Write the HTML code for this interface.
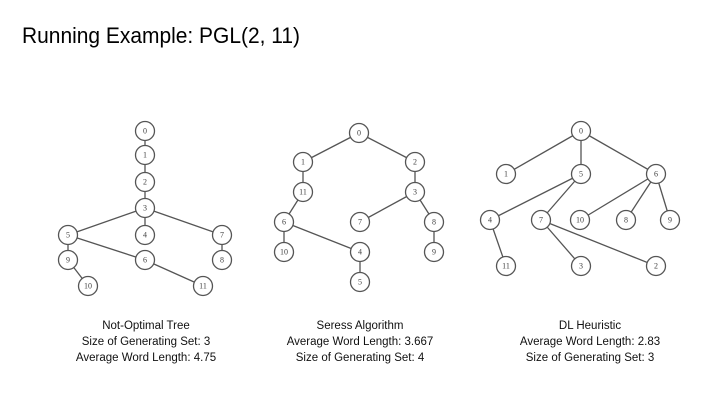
<!DOCTYPE html>
<html><head><meta charset="utf-8"><style>
html,body{margin:0;padding:0;background:#fff;}
svg{display:block;}
.e{stroke:#555;stroke-width:1.3;fill:none}
.n circle{fill:#fff;stroke:#555;stroke-width:1.3}
.n text{font-family:"Liberation Serif",serif;font-size:8px;fill:#444;text-anchor:middle;dominant-baseline:central}
.cap{font-family:"Liberation Sans",sans-serif;font-size:11.5px;fill:#111;text-anchor:middle}
</style></head><body>
<svg width="720" height="405" viewBox="0 0 720 405" xmlns="http://www.w3.org/2000/svg">
<text x="22" y="43" font-family="Liberation Sans, sans-serif" font-size="22" textLength="278" lengthAdjust="spacingAndGlyphs" fill="#000">Running Example: PGL(2, 11)</text>

<!-- Tree 1 -->
<g class="e">
<line x1="145" y1="131" x2="145" y2="208"/>
<line x1="145" y1="208" x2="68" y2="235"/>
<line x1="145" y1="208" x2="145" y2="235"/>
<line x1="145" y1="208" x2="222" y2="235"/>
<line x1="68" y1="235" x2="68" y2="260"/>
<line x1="68" y1="235" x2="145" y2="260"/>
<line x1="222" y1="235" x2="222" y2="260"/>
<line x1="68" y1="260" x2="88" y2="286"/>
<line x1="145" y1="260" x2="203" y2="286"/>
</g>
<g class="n">
<g><circle cx="145" cy="131" r="9.5"/><text x="145" y="131">0</text></g>
<g><circle cx="145" cy="155" r="9.5"/><text x="145" y="155">1</text></g>
<g><circle cx="145" cy="182" r="9.5"/><text x="145" y="182">2</text></g>
<g><circle cx="145" cy="208" r="9.5"/><text x="145" y="208">3</text></g>
<g><circle cx="68" cy="235" r="9.5"/><text x="68" y="235">5</text></g>
<g><circle cx="145" cy="235" r="9.5"/><text x="145" y="235">4</text></g>
<g><circle cx="222" cy="235" r="9.5"/><text x="222" y="235">7</text></g>
<g><circle cx="68" cy="260" r="9.5"/><text x="68" y="260">9</text></g>
<g><circle cx="145" cy="260" r="9.5"/><text x="145" y="260">6</text></g>
<g><circle cx="222" cy="260" r="9.5"/><text x="222" y="260">8</text></g>
<g><circle cx="88" cy="286" r="9.5"/><text x="88" y="286">10</text></g>
<g><circle cx="203" cy="286" r="9.5"/><text x="203" y="286">11</text></g>
</g>

<!-- Tree 2 -->
<g class="e">
<line x1="359" y1="133" x2="303" y2="162"/>
<line x1="359" y1="133" x2="415" y2="162"/>
<line x1="303" y1="162" x2="303" y2="192"/>
<line x1="415" y1="162" x2="415" y2="192"/>
<line x1="303" y1="192" x2="284" y2="222"/>
<line x1="415" y1="192" x2="360" y2="222"/>
<line x1="415" y1="192" x2="434" y2="222"/>
<line x1="284" y1="222" x2="284" y2="252"/>
<line x1="284" y1="222" x2="360" y2="252"/>
<line x1="434" y1="222" x2="434" y2="252"/>
<line x1="360" y1="252" x2="360" y2="282"/>
</g>
<g class="n">
<g><circle cx="359" cy="133" r="9.5"/><text x="359" y="133">0</text></g>
<g><circle cx="303" cy="162" r="9.5"/><text x="303" y="162">1</text></g>
<g><circle cx="415" cy="162" r="9.5"/><text x="415" y="162">2</text></g>
<g><circle cx="303" cy="192" r="9.5"/><text x="303" y="192">11</text></g>
<g><circle cx="415" cy="192" r="9.5"/><text x="415" y="192">3</text></g>
<g><circle cx="284" cy="222" r="9.5"/><text x="284" y="222">6</text></g>
<g><circle cx="360" cy="222" r="9.5"/><text x="360" y="222">7</text></g>
<g><circle cx="434" cy="222" r="9.5"/><text x="434" y="222">8</text></g>
<g><circle cx="284" cy="252" r="9.5"/><text x="284" y="252">10</text></g>
<g><circle cx="360" cy="252" r="9.5"/><text x="360" y="252">4</text></g>
<g><circle cx="434" cy="252" r="9.5"/><text x="434" y="252">9</text></g>
<g><circle cx="360" cy="282" r="9.5"/><text x="360" y="282">5</text></g>
</g>

<!-- Tree 3 -->
<g class="e">
<line x1="581" y1="131" x2="506" y2="174"/>
<line x1="581" y1="131" x2="581" y2="174"/>
<line x1="581" y1="131" x2="656" y2="174"/>
<line x1="581" y1="174" x2="490" y2="220"/>
<line x1="581" y1="174" x2="541" y2="220"/>
<line x1="656" y1="174" x2="580" y2="220"/>
<line x1="656" y1="174" x2="626" y2="220"/>
<line x1="656" y1="174" x2="670" y2="220"/>
<line x1="490" y1="220" x2="506" y2="266"/>
<line x1="541" y1="220" x2="581" y2="266"/>
<line x1="541" y1="220" x2="656" y2="266"/>
</g>
<g class="n">
<g><circle cx="581" cy="131" r="9.5"/><text x="581" y="131">0</text></g>
<g><circle cx="506" cy="174" r="9.5"/><text x="506" y="174">1</text></g>
<g><circle cx="581" cy="174" r="9.5"/><text x="581" y="174">5</text></g>
<g><circle cx="656" cy="174" r="9.5"/><text x="656" y="174">6</text></g>
<g><circle cx="490" cy="220" r="9.5"/><text x="490" y="220">4</text></g>
<g><circle cx="541" cy="220" r="9.5"/><text x="541" y="220">7</text></g>
<g><circle cx="580" cy="220" r="9.5"/><text x="580" y="220">10</text></g>
<g><circle cx="626" cy="220" r="9.5"/><text x="626" y="220">8</text></g>
<g><circle cx="670" cy="220" r="9.5"/><text x="670" y="220">9</text></g>
<g><circle cx="506" cy="266" r="9.5"/><text x="506" y="266">11</text></g>
<g><circle cx="581" cy="266" r="9.5"/><text x="581" y="266">3</text></g>
<g><circle cx="656" cy="266" r="9.5"/><text x="656" y="266">2</text></g>
</g>

<!-- Captions -->
<text class="cap" x="146" y="329">Not-Optimal Tree</text>
<text class="cap" x="146" y="345">Size of Generating Set: 3</text>
<text class="cap" x="146" y="361">Average Word Length: 4.75</text>
<text class="cap" x="360" y="329">Seress Algorithm</text>
<text class="cap" x="360" y="345">Average Word Length: 3.667</text>
<text class="cap" x="360" y="361">Size of Generating Set:  4</text>
<text class="cap" x="590" y="329">DL Heuristic</text>
<text class="cap" x="590" y="345">Average Word Length: 2.83</text>
<text class="cap" x="590" y="361">Size of Generating Set: 3</text>
</svg>
</body></html>
